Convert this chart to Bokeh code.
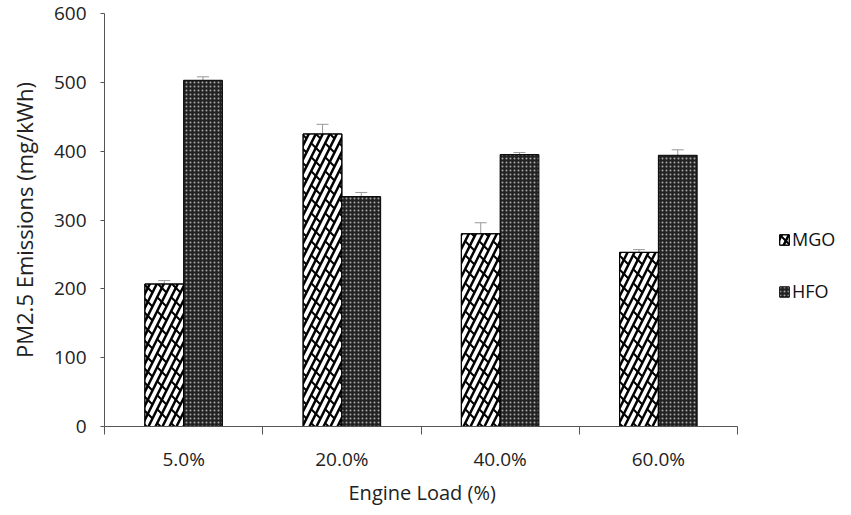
from bokeh.plotting import figure
from bokeh.models import (ColumnDataSource, FixedTicker, Whisker, TeeHead, Legend,
                          LegendItem, Range1d, Title)
from bokeh.transform import dodge
from bokeh.embed import file_html
from bokeh.resources import INLINE

loads = ["5.0%", "20.0%", "40.0%", "60.0%"]
mgo = [207, 425, 280, 253]
mgo_err = [5, 14, 16, 4]
hfo = [503, 334, 395, 394]
hfo_err = [5, 6, 3, 8]
y_ticks = [0, 100, 200, 300, 400, 500, 600]

FONT = "Open Sans"
xc = [i + 0.5 for i in range(len(loads))]
src = ColumnDataSource(dict(
    xc=xc, mgo=mgo, hfo=hfo,
    mgo_lo=[v - e for v, e in zip(mgo, mgo_err)], mgo_hi=[v + e for v, e in zip(mgo, mgo_err)],
    hfo_lo=[v - e for v, e in zip(hfo, hfo_err)], hfo_hi=[v + e for v, e in zip(hfo, hfo_err)],
))

# frame spans 747 px; the category axis occupies the first 633 px, legend sits in the rest
AXIS_PX, FRAME_PX = 633, 747
p = figure(width=851, height=515, output_backend="svg", toolbar_location=None,
           x_range=Range1d(0, len(loads) * FRAME_PX / AXIS_PX), y_range=Range1d(0, 600),
           min_border_left=104, min_border_right=0, min_border_top=13, min_border_bottom=89)
p.outline_line_color = None
p.grid.visible = False
p.background_fill_color = "white"

bw = 0.245
off = 0.1225
r_m1 = p.vbar(x=dodge("xc", -off, range=p.x_range), top="mgo", width=bw, source=src,
              fill_color="white", line_color="black", line_width=1,
              hatch_pattern="right_diagonal_line", hatch_color="black", hatch_weight=2.5, hatch_scale=14)
r_m2 = p.vbar(x=dodge("xc", -off, range=p.x_range), top="mgo", width=bw, source=src,
              fill_color=None, line_color="black", line_width=1,
              hatch_pattern="left_diagonal_dash", hatch_color="black", hatch_weight=2, hatch_scale=14)
r_h = p.vbar(x=dodge("xc", off, range=p.x_range), top="hfo", width=bw, source=src,
             fill_color="#222222", line_color="black", line_width=1,
             hatch_pattern="dot", hatch_color="#a8a8a8", hatch_weight=1.5, hatch_scale=4)

for lo, hi, o in (("mgo_lo", "mgo_hi", -off), ("hfo_lo", "hfo_hi", off)):
    w = Whisker(source=src, base=dodge("xc", o, range=p.x_range), lower=lo, upper=hi,
                line_color="#999999", line_width=1,
                upper_head=TeeHead(size=12, line_color="#999999", line_width=1),
                lower_head=TeeHead(size=12, line_color="#999999", line_width=1))
    p.add_layout(w)

# axes
xa = p.xaxis[0]
xa.bounds = (0, len(loads))
xa.ticker = FixedTicker(ticks=xc, minor_ticks=list(range(len(loads) + 1)))
xa.major_label_overrides = {x: l for x, l in zip(xc, loads)}
xa.major_tick_out = 0
xa.major_tick_in = 0
xa.minor_tick_out = 8
xa.minor_tick_in = 0
xa.minor_tick_line_color = "#555555"
xa.axis_line_color = "#555555"
xa.major_label_standoff = 11
xa.major_label_text_font = FONT
xa.major_label_text_font_size = "19px"
xa.major_label_text_color = "#222222"

# x-axis title, centred under the category axis (not the whole frame)
xtitle = Title(text="Engine Load (%)", align="left", offset=244, standoff=4,
               text_font=FONT, text_font_size="20px", text_font_style="normal",
               text_color="#222222")
p.add_layout(xtitle, "below")

ya = p.yaxis[0]
ya.ticker = FixedTicker(ticks=y_ticks)
ya.minor_tick_line_color = None
ya.major_tick_out = 4
ya.major_tick_in = 0
ya.major_tick_line_color = "#555555"
ya.axis_line_color = "#555555"
ya.major_label_standoff = 14
ya.major_label_text_font = FONT
ya.major_label_text_font_size = "19px"
ya.major_label_text_color = "#222222"
ya.axis_label = "PM2.5 Emissions (mg/kWh)"
ya.axis_label_text_font = FONT
ya.axis_label_text_font_size = "22px"
ya.axis_label_text_font_style = "normal"
ya.axis_label_text_color = "#222222"
ya.axis_label_standoff = 12

legend = Legend(items=[LegendItem(label="MGO", renderers=[r_m1, r_m2]),
                       LegendItem(label="HFO", renderers=[r_h])],
                location=(674, 123), orientation="vertical",
                glyph_width=12, glyph_height=13, label_standoff=2, spacing=28,
                padding=0, margin=0, border_line_color=None, background_fill_alpha=0,
                label_text_font=FONT, label_text_font_size="18px", label_text_color="#111111")
p.add_layout(legend, "center")

open("out.html", "w").write(file_html(p, INLINE))
